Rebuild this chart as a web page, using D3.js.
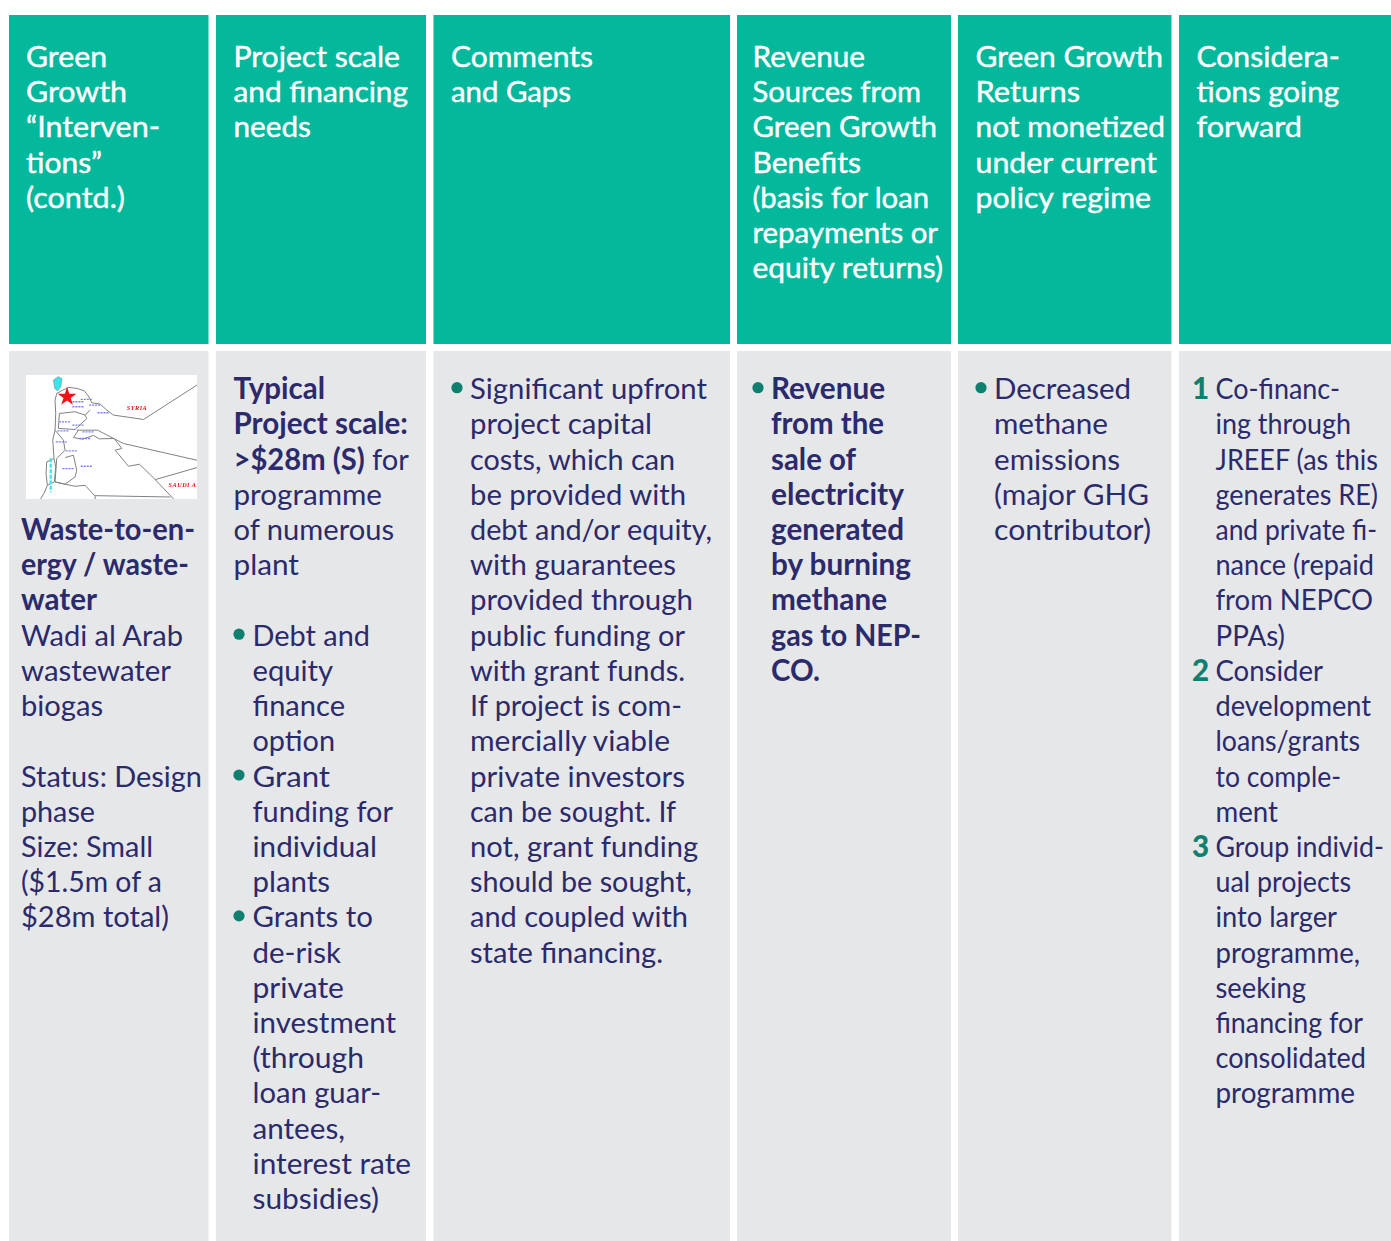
<!DOCTYPE html>
<html><head><meta charset="utf-8">
<style>html,body{margin:0;padding:0;background:#fff}svg{display:block}text{font-family:Lato,sans-serif;font-kerning:normal}</style>
<script src="https://cdn.jsdelivr.net/npm/d3@7"></script></head><body>
<script>
// * toggles bold. "•|" bullet, "1|" number prefix, "~|" hanging continuation
const headers = [
 ["Green","Growth","“Interven-","tions”","(contd.)"],
 ["Project scale","and financing","needs"],
 ["Comments","and Gaps"],
 ["Revenue","Sources from","Green Growth","Benefits","(basis for loan","repayments or","equity returns)"],
 ["Green Growth","Returns","not monetized","under current","policy regime"],
 ["Considera-","tions going","forward"]
];
const bodyCol1 = ["","","","","*Waste-to-en-","*ergy / waste-","*water","Wadi al Arab","wastewater","biogas","","Status: Design","phase","Size: Small","($1.5m of a","$28m total)"];
const bodyCol2 = ["*Typical","*Project scale:","*>$28m (S)* for","programme","of numerous","plant","","•|Debt and","~|equity","~|finance","~|option","•|Grant","~|funding for","~|individual","~|plants","•|Grants to","~|de-risk","~|private","~|investment","~|(through","~|loan guar-","~|antees,","~|interest rate","~|subsidies)"];
const bodyCol3 = ["•|Significant upfront","project capital","costs, which can","be provided with","debt and/or equity,","with guarantees","provided through","public funding or","with grant funds.","If project is com-","mercially viable","private investors","can be sought. If","not, grant funding","should be sought,","and coupled with","state financing."];
const bodyCol4 = ["•|*Revenue","*from the","*sale of","*electricity","*generated","*by burning","*methane","*gas to NEP-","*CO."];
const bodyCol5 = ["•|Decreased","methane","emissions","(major GHG","contributor)"];
const bodyCol6 = ["1|Co-financ-","ing through","JREEF (as this","generates RE)","and private fi-","nance (repaid","from NEPCO","PPAs)","2|Consider","development","loans/grants","to comple-","ment","3|Group individ-","ual projects","into larger","programme,","seeking","financing for","consolidated","programme"];
const bodies = [bodyCol1,bodyCol2,bodyCol3,bodyCol4,bodyCol5,bodyCol6];

// right ends of the lines
const headEnds = [[107,127,160,102,125],[400,408,311],[593,571],[865,921,937,861,929,938,943],[1163,1080,1165,1157,1151],[1340,1339,1302]];
const bodyEnds = [
 [0,0,0,0,195,189,97,183,171,103,0,202,95,153,162,169],
 [325,408,409,382,394,299,0,370,333,345,335,330,393,377,330,373,341,344,396,364,381,345,411,379],
 [707,652,675,686,712,676,693,685,685,682,670,685,676,698,692,688,663],
 [885,884,856,904,904,911,887,921,820],
 [1131,1108,1120,1149,1151],
 [1340,1351,1378,1378,1377,1374,1373,1285,1323,1371,1360,1341,1278,1384,1351,1337,1360,1306,1363,1366,1355]
];

const colEdges = [[9,208.5],[216,426],[433.5,730],[737,951],[958,1171.5],[1179,1391]];
const headX = [26,233.5,451,752.5,975.5,1196.5];
const bodyX = [21,233.5,470,771,994,1215.5];
const hangX = [21,252.5,470,771,994,1215.5];
const markX = [21,233,451,752,975,1192];

// map outlines (picture units)
const mapBorder = [[135,120],[140,100],[155,92],[175,82],[200,85],[222,92],[235,108],[245,128],[270,132],[290,150],[310,165],[400,178],[560,75]];
const mapWest = [[135,120],[137,160],[135,210],[128,240],[132,295],[110,305],[108,340],[112,375],[104,395],[92,416]];
const mapDeadE = [[132,295],[137,320],[133,365],[112,375]];
const mapEast = [[200,210],[262,210],[340,250],[560,300]];
const mapSouth = [[315,270],[355,318],[388,312],[435,358],[490,416]];
const mapSaudi = [[435,358],[560,322]];
const mapInner1 = [[205,210],[190,232],[218,237],[250,226],[268,236],[312,235],[335,265],[315,270]];
const mapInner2 = [[148,160],[195,155],[225,165],[240,150]];
const mapInner3 = [[148,160],[145,205],[195,208],[230,175],[225,165]];
const mapInner4 = [[135,210],[160,240],[165,270],[140,295],[135,365],[165,372],[195,350],[200,330],[190,285],[165,292]];
const mapInner5 = [[135,365],[195,378],[225,375],[255,408],[255,416]];
const mapInner6 = [[255,406],[480,410]];
const mapLines = [mapBorder,mapWest,mapDeadE,mapEast,mapSouth,mapSaudi,mapInner1,mapInner2,mapInner3,mapInner4,mapInner5,mapInner6];
const mapSea = [[130,60],[145,50],[156,56],[152,80],[142,93],[134,85]];
const mapNames = [[[350,150],"SYRIA"],[[475,380],"SAUDI AR"]];
const mapStar = [171,110];
const mapTowns = [[205,125],[230,118],[255,135],[280,158],[165,185],[205,195],[160,212],[235,215],[225,235],[155,245],[185,272],[230,318],[175,325],[205,140]];
const mapDeadSea = [122,345];

const W=1391,H=1241, tealColor="#04b89c", grayColor="#e6e7e9", ink="#2b2a6b", markInk="#0f7f70";
const yHead=d3.scaleLinear().domain([0,1]).range([67,102.2]);
const yBody=d3.scaleLinear().domain([0,1]).range([399.2,434.41]);
const svg=d3.select("body").append("svg").attr("width",W).attr("height",H);

svg.selectAll("rect.h").data(colEdges).join("rect").attr("class","h")
 .attr("x",d=>d[0]).attr("width",d=>d[1]-d[0]).attr("y",15).attr("height",329).attr("fill",tealColor);
svg.selectAll("rect.b").data(colEdges).join("rect").attr("class","b")
 .attr("x",d=>d[0]).attr("width",d=>d[1]-d[0]).attr("y",351).attr("height",H-351).attr("fill",grayColor);

function fit(sel,x,end){ sel.attr("textLength",end-x).attr("lengthAdjust","spacingAndGlyphs"); }

headers.forEach((lines,c)=>{
 const g=svg.append("g");
 lines.forEach((d,i)=>{
  const t=g.append("text").attr("x",headX[c]).attr("y",yHead(i)).attr("fill","#fff")
   .attr("stroke","#fff").attr("stroke-width",0.45)
   .attr("font-size",29.5).text(d);
  fit(t,headX[c],headEnds[c][i]);
 });
});
bodies.forEach((lines,c)=>{
 const g=svg.append("g");
 lines.forEach((raw,i)=>{
  if(!raw) return;
  let s=raw, mark=null;
  const m=s.match(/^(.)\|(.*)$/);
  if(m){mark=m[1];s=m[2];}
  if(mark==="•") g.append("circle").attr("cx",markX[c]+6).attr("cy",yBody(i)-11.5).attr("r",5.6).attr("fill",markInk);
  else if(mark && mark!=="~") g.append("text").attr("x",markX[c]).attr("y",yBody(i)).attr("font-size",29.5).attr("font-weight",900).attr("fill",markInk).text(mark);
  const x=mark?hangX[c]:bodyX[c];
  const t=g.append("text").attr("x",x).attr("y",yBody(i)).attr("font-size",29.5).attr("fill",ink);
  s.split("*").forEach((seg,k)=>{ if(seg) t.append("tspan").attr("font-weight",k%2?700:400).text(seg); });
  fit(t,x,bodyEnds[c][i]);
 });
});

// map
const mx=d3.scaleLinear().domain([48,560]).range([26,197]);
const my=d3.scaleLinear().domain([45,416]).range([375,499]);
const defs=svg.append("defs");
defs.append("clipPath").attr("id","mc").append("rect").attr("x",26).attr("y",375).attr("width",171).attr("height",124);
defs.append("filter").attr("id","soft").append("feGaussianBlur").attr("stdDeviation",0.35);
const mg=svg.append("g").attr("clip-path","url(#mc)");
mg.append("rect").attr("x",26).attr("y",375).attr("width",171).attr("height",124).attr("fill","#fff");
const ln=d3.line().x(d=>mx(d[0])).y(d=>my(d[1]));
const inner=mg.append("g").attr("filter","url(#soft)");
inner.selectAll("path.l").data(mapLines).join("path").attr("class","l").attr("d",ln).attr("fill","none").attr("stroke","#808080").attr("stroke-width",1);
inner.selectAll("path.s").data([mapSea]).join("path").attr("class","s").attr("d",d=>ln(d)+"Z").attr("fill","#35e6ee").attr("stroke","#888").attr("stroke-width",0.6);
inner.selectAll("path.t").data(mapTowns).join("path").attr("class","t").attr("d",d=>`M${mx(d[0])-6},${my(d[1])}h12`).attr("stroke","#7a7aff").attr("stroke-width",1.3).attr("stroke-dasharray","2 1");
inner.append("path").attr("d",`M${mx(mapDeadSea[0])},${my(mapDeadSea[1])-17}v34`).attr("stroke","#35e6ee").attr("stroke-width",2.2).attr("stroke-dasharray","4 1.5");
inner.selectAll("text").data(mapNames).join("text").attr("x",d=>mx(d[0][0])).attr("y",d=>my(d[0][1])).attr("fill","#f01010")
 .attr("font-size",6.2).attr("font-weight",700).attr("font-style","italic").attr("letter-spacing",0.5).style("font-family","'Liberation Serif',serif").text(d=>d[1]);
mg.append("path").attr("d",d3.symbol(d3.symbolStar,110)()).attr("transform",`translate(${mx(mapStar[0])},${my(mapStar[1])})`).attr("fill","#f40f14");
</script></body></html>
